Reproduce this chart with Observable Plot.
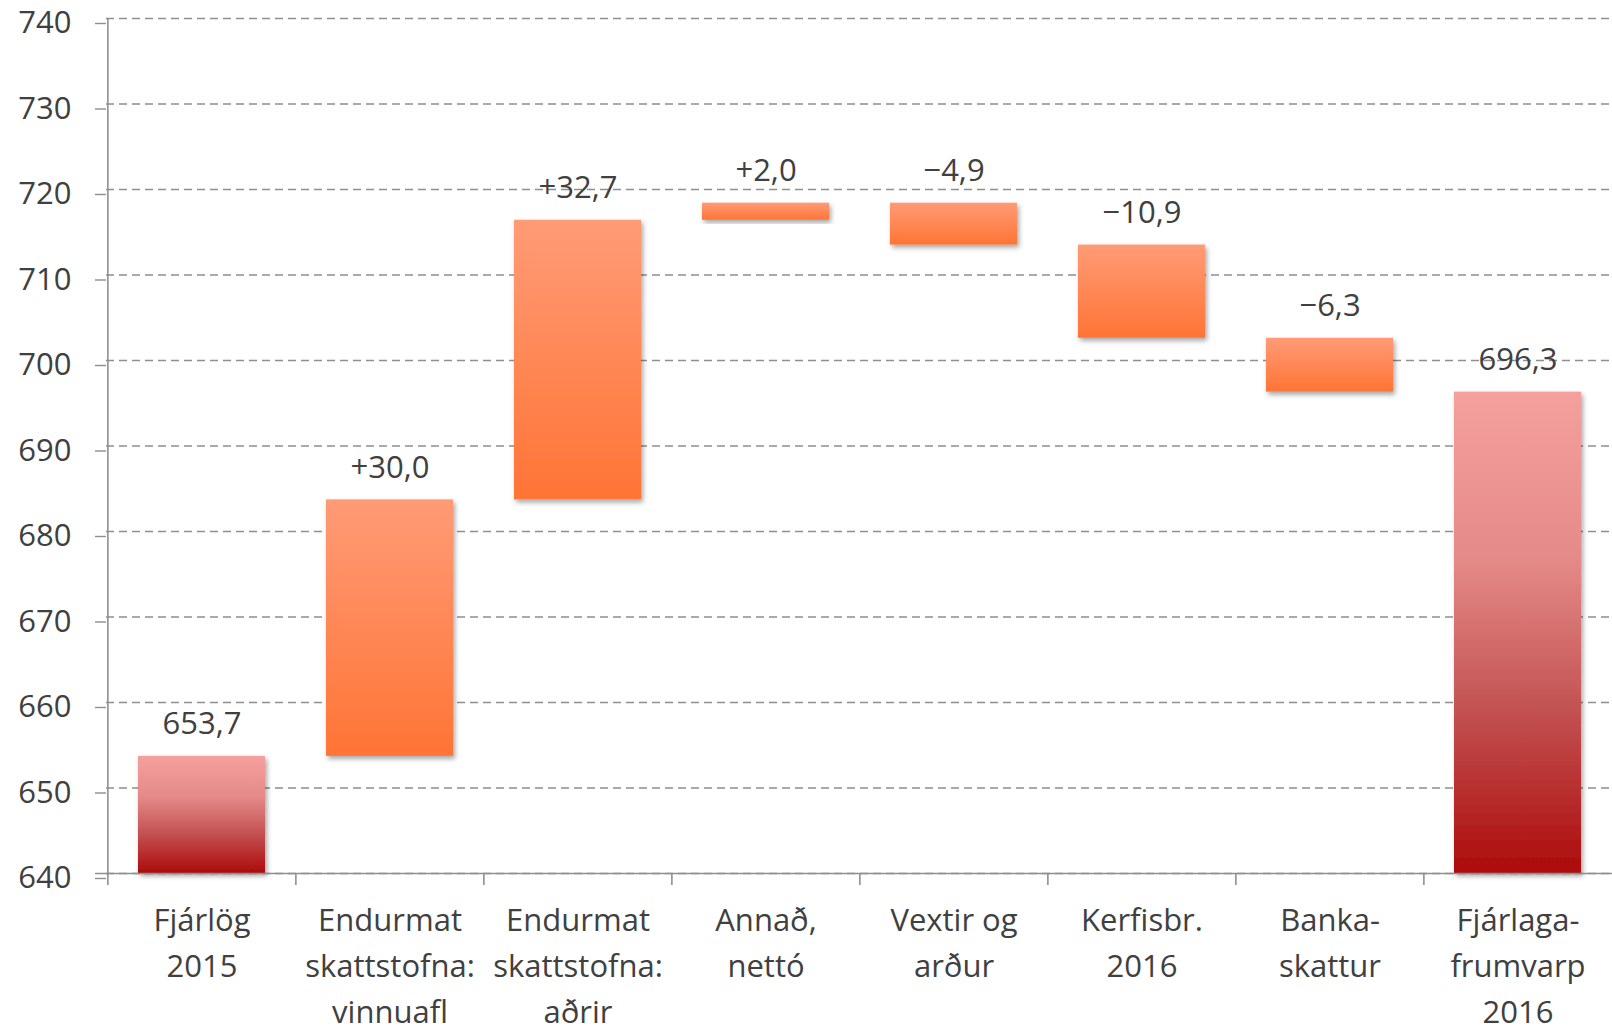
<!DOCTYPE html>
<html>
<head>
<meta charset="utf-8">
<script src="https://cdn.jsdelivr.net/npm/d3@7"></script>
<script src="https://cdn.jsdelivr.net/npm/@observablehq/plot@0.6"></script>
<style>
  html, body { margin: 0; padding: 0; background: #fff; }
  #chart { width: 1612px; height: 1028px; overflow: hidden; }
</style>
</head>
<body>
<div id="chart"></div>
<script>
// ---- data ----
const categories = [
  "Fjárlög\n2015",
  "Endurmat\nskattstofna:\nvinnuafl",
  "Endurmat\nskattstofna:\naðrir",
  "Annað,\nnettó",
  "Vextir og\narður",
  "Kerfisbr.\n2016",
  "Banka-\nskattur",
  "Fjárlaga-\nfrumvarp\n2016"
];
const values = [653.7, 30.0, 32.7, 2.0, -4.9, -10.9, -6.3, 696.3];
const kinds = ["total", "delta", "delta", "delta", "delta", "delta", "delta", "total"];
const yTicks = [640, 650, 660, 670, 680, 690, 700, 710, 720, 730, 740];
const baseline = 640;

// ---- build waterfall rows ----
let running = 0;
const rows = categories.map((c, i) => {
  const v = values[i];
  let lo, hi;
  if (kinds[i] === "total") {
    lo = baseline; hi = v; running = v;
  } else {
    const start = running; running = start + v;
    lo = Math.min(start, running); hi = Math.max(start, running);
  }
  const num = Math.abs(v).toFixed(1).replace(".", ",");
  const label = kinds[i] === "total" ? num : (v >= 0 ? "+" : "\u2212") + num;
  return {cat: c, lo, hi, kind: kinds[i], label};
});

// ---- layout ----
const W = 1612, H = 1028;
const mL = 106, mR = 0, mT = 18, mB = 155;
const step = (W - mL - mR) / categories.length;
const font = "'Open Sans', Lato, sans-serif";
const txt = "#404040", grey = "#8f8f8f";

const plot = Plot.plot({
  width: W, height: H,
  marginLeft: mL, marginRight: mR, marginTop: mT, marginBottom: mB,
  style: {fontFamily: font, fontSize: "31px", color: txt, background: "#fff"},
  x: {type: "band", domain: categories, paddingInner: 0.326, paddingOuter: 0.163, axis: null, label: null},
  y: {domain: [640, 740], axis: null, label: null},
  marks: [
    Plot.gridY(yTicks, {stroke: grey, strokeOpacity: 1, strokeWidth: 1.4, strokeDasharray: "8,5"}),
    Plot.axisY(yTicks, {tickSize: 11, tickPadding: 24, stroke: grey, strokeWidth: 1.4, fill: txt, fontSize: 31, dy: 5, label: null, tickFormat: d => String(d)}),
    Plot.barY(rows.filter(d => d.kind === "total"), {x: "cat", y1: "lo", y2: "hi", fill: "url(#gTotal)"}),
    Plot.barY(rows.filter(d => d.kind === "delta"), {x: "cat", y1: "lo", y2: "hi", fill: "url(#gDelta)"}),
    Plot.ruleY([640], {stroke: grey, strokeWidth: 1.6, insetLeft: -11}),
    Plot.ruleX([categories[0]], {x: d => d, dx: -step / 2, y1: 640, y2: 740, stroke: grey, strokeWidth: 1.6}),
    Plot.axisX(categories, {tickSize: 12, tickFormat: () => "", dx: -step / 2, stroke: grey, strokeWidth: 1.6, label: null}),
    Plot.text(categories, {x: d => d, y: () => 640, text: d => d, dy: 25, lineAnchor: "top", lineHeight: 1.48, fill: txt, fontSize: 31, fontFamily: font}),
    Plot.text(rows, {x: "cat", y: "hi", text: "label", dy: -32, lineAnchor: "middle", fill: txt, fontSize: 31, fontFamily: font})
  ]
});

// gradients & shadow
const svg = d3.select(plot);
const defs = svg.insert("defs", ":first-child");
const gT = defs.append("linearGradient").attr("id", "gTotal").attr("x1", 0).attr("y1", 0).attr("x2", 0).attr("y2", 1);
gT.append("stop").attr("offset", "0%").attr("stop-color", "#f5a09d");
gT.append("stop").attr("offset", "35%").attr("stop-color", "#e48a88");
gT.append("stop").attr("offset", "65%").attr("stop-color", "#c45454");
gT.append("stop").attr("offset", "100%").attr("stop-color", "#ad0b0b");
const gD = defs.append("linearGradient").attr("id", "gDelta").attr("x1", 0).attr("y1", 0).attr("x2", 0).attr("y2", 1);
gD.append("stop").attr("offset", "0%").attr("stop-color", "#ff9b76");
gD.append("stop").attr("offset", "100%").attr("stop-color", "#ff7435");
const f = defs.append("filter").attr("id", "shadow").attr("x", "-10%").attr("y", "-10%").attr("width", "130%").attr("height", "130%");
f.append("feDropShadow").attr("dx", 2).attr("dy", 3).attr("stdDeviation", 2.5).attr("flood-color", "#000").attr("flood-opacity", 0.35);
svg.selectAll("g[aria-label='bar'] rect").attr("filter", "url(#shadow)");

document.getElementById("chart").appendChild(plot);
</script>
</body>
</html>
